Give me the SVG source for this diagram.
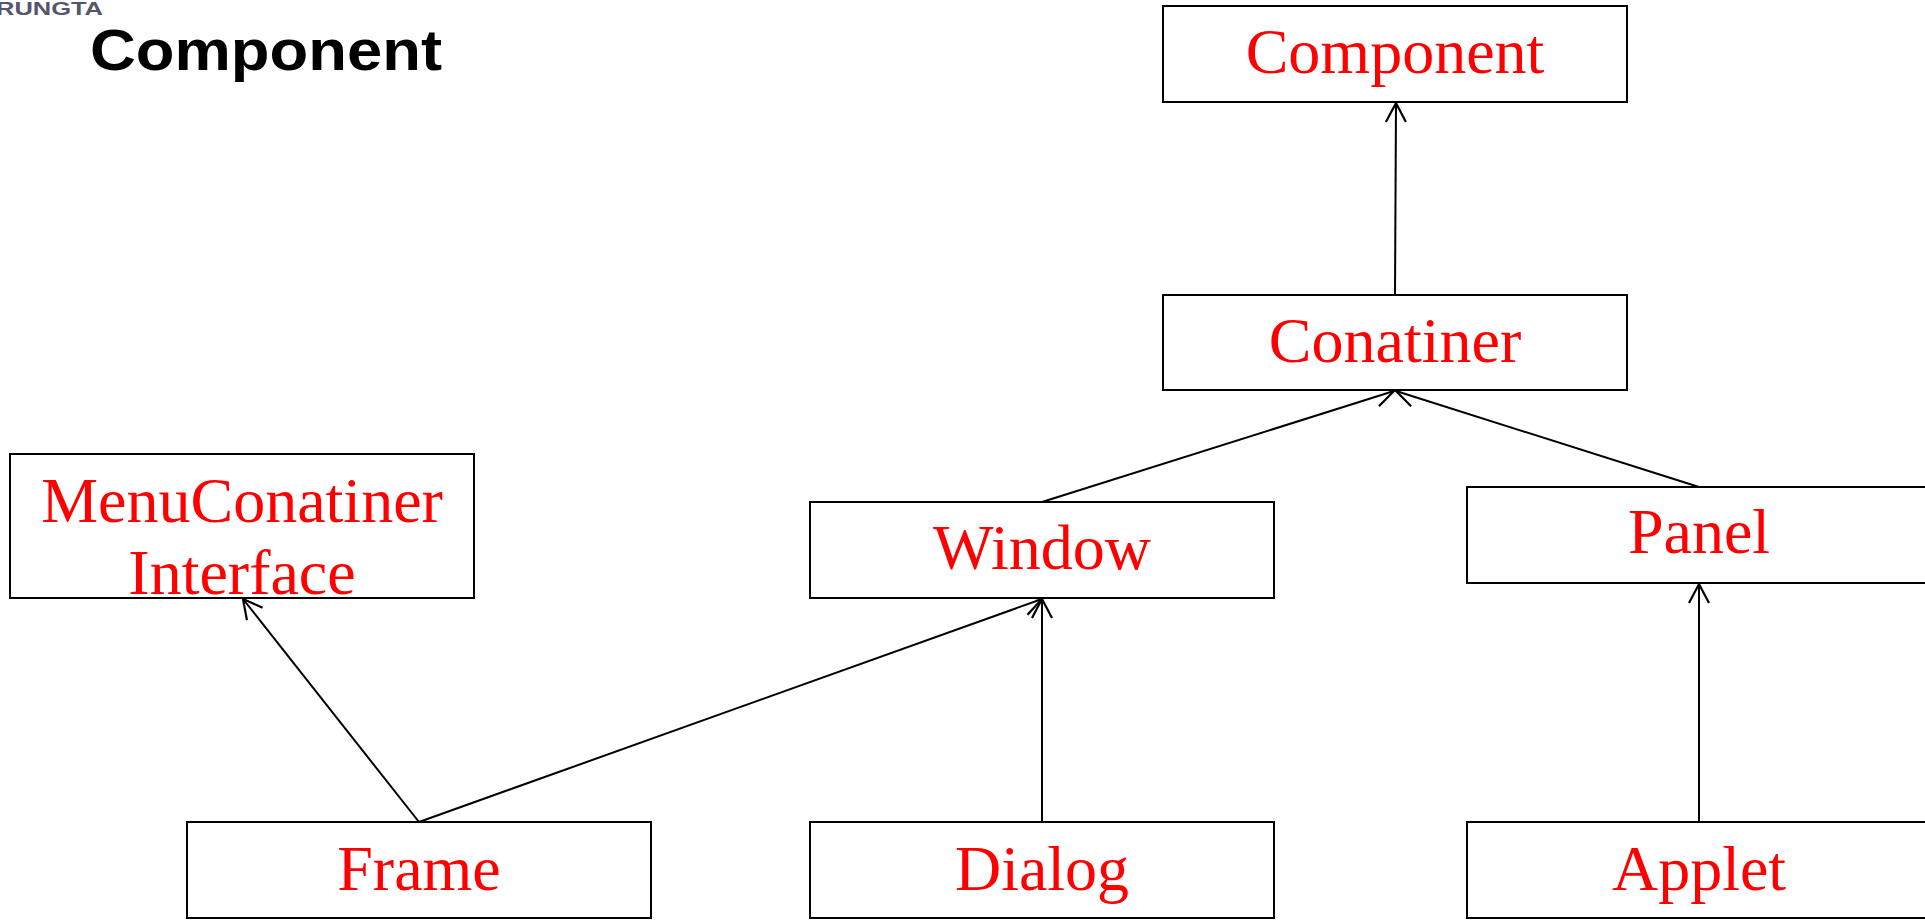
<svg xmlns="http://www.w3.org/2000/svg" width="1925" height="920" viewBox="0 0 1925 920">
<style>
.box{fill:#ffffff;stroke:#000000;stroke-width:2}
.lbl{font-family:"Liberation Serif","Times New Roman",serif;font-size:64px;fill:#ff0000;text-anchor:middle}
.conn{fill:none;stroke:#000000;stroke-width:2;marker-end:url(#arr)}
</style>
<defs>
<marker id="arr" viewBox="-24 -13 28 26" refX="0" refY="0" markerWidth="28" markerHeight="26" markerUnits="userSpaceOnUse" orient="auto">
<path d="M-19,-10 L0,0 L-19,10" fill="none" stroke="#000000" stroke-width="2.2"/>
</marker>
</defs>
<rect width="1925" height="920" fill="#ffffff"/>
<text x="-4" y="15" font-family="Liberation Sans, Arial, sans-serif" font-size="18" font-weight="bold" fill="#55556b" textLength="107" lengthAdjust="spacingAndGlyphs">RUNGTA</text>
<text x="90" y="70" font-family="Liberation Sans, Arial, sans-serif" font-size="57" font-weight="bold" fill="#000000" textLength="352" lengthAdjust="spacingAndGlyphs">Component</text>
<g id="connectors">
<line class="conn" x1="1395" y1="295" x2="1396" y2="103"/>
<line class="conn" x1="1042" y1="502" x2="1394" y2="391"/>
<line class="conn" x1="1699" y1="487" x2="1396" y2="391"/>
<line class="conn" x1="1699" y1="822" x2="1699" y2="584"/>
<line class="conn" x1="419" y1="822" x2="243" y2="599"/>
<line class="conn" x1="419" y1="822" x2="1042" y2="599"/>
<line class="conn" x1="1042" y1="822" x2="1042" y2="599"/>
</g>
<g id="component"><rect class="box" x="1163" y="6" width="464" height="96"/><text class="lbl" x="1395" y="73">Component</text></g>
<g id="conatiner"><rect class="box" x="1163" y="295" width="464" height="95"/><text class="lbl" x="1395" y="362">Conatiner</text></g>
<g id="menuconatiner"><rect class="box" x="10" y="454" width="464" height="144"/><text class="lbl" x="242" y="522">MenuConatiner</text><text class="lbl" x="242" y="594">Interface</text></g>
<g id="window"><rect class="box" x="810" y="502" width="464" height="96"/><text class="lbl" x="1042" y="569">Window</text></g>
<g id="panel"><rect class="box" x="1467" y="487" width="464" height="96"/><text class="lbl" x="1699" y="553">Panel</text></g>
<g id="frame"><rect class="box" x="187" y="822" width="464" height="96"/><text class="lbl" x="419" y="890">Frame</text></g>
<g id="dialog"><rect class="box" x="810" y="822" width="464" height="96"/><text class="lbl" x="1042" y="890">Dialog</text></g>
<g id="applet"><rect class="box" x="1467" y="822" width="464" height="96"/><text class="lbl" x="1699" y="890">Applet</text></g>
</svg>
